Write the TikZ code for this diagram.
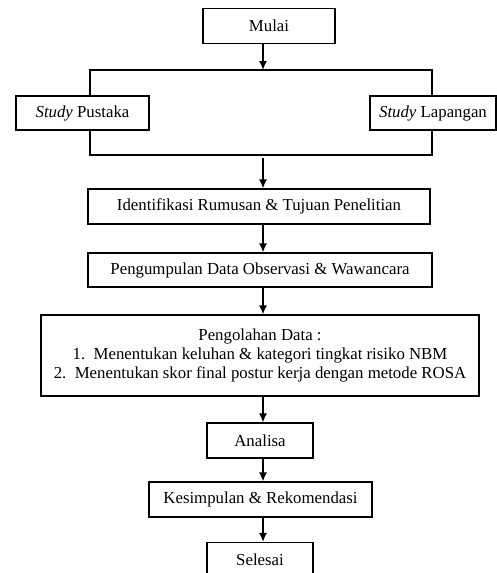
\documentclass[tikz,border=0pt]{standalone}
\usepackage{fontspec}
\setmainfont{Liberation Serif}
\usetikzlibrary{arrows.meta}
\begin{document}
\begin{tikzpicture}[x=1pt,y=-1pt,
  box/.style={draw, line width=1.1pt, minimum height=35pt, inner sep=0pt, font=\fontsize{16.8}{19}\selectfont},
  arr/.style={-{Latex[length=9pt,width=8pt]}, line width=1.6pt},
  ln/.style={line width=1.1pt}]
\useasboundingbox (0,0) rectangle (497,573);
\coordinate (ax) at (263,0);
\node[box, minimum width=132pt] (mulai) at (269,26) {Mulai};
\node[box, minimum width=133pt, minimum height=34pt] (pustaka) at (82.5,113) {\textit{Study} Pustaka};
\node[box, minimum width=126pt, minimum height=34pt] (lapangan) at (433,113) {\textit{Study} Lapangan};
\coordinate (tl) at (90,70);
\coordinate (tr) at (432,70);
\coordinate (bl) at (90,155);
\coordinate (br) at (432,155);
\coordinate (bm) at (263,158);
\draw[ln] (pustaka.north -| tl) -- (tl) -- (tr) -- (lapangan.north -| tr);
\draw[ln] (pustaka.south -| bl) -- (bl) -- (br) -- (lapangan.south -| br);
\node[box, minimum width=342pt] (ident) at (259,206.5) {Identifikasi Rumusan \& Tujuan Penelitian};
\node[box, minimum width=344pt, minimum height=34pt] (kumpul) at (260,270) {Pengumpulan Data Observasi \& Wawancara};
\node[box, minimum width=438pt, minimum height=81pt, align=center] (olah) at (260,355.5) {Pengolahan Data :\\1.\enspace Menentukan keluhan \& kategori tingkat risiko NBM\\2.\enspace Menentukan skor final postur kerja dengan metode ROSA};
\node[box, minimum width=106pt] (analisa) at (260,440.5) {Analisa};
\node[box, minimum width=223pt] (simpul) at (260.5,499.5) {Kesimpulan \& Rekomendasi};
\node[box, minimum width=106pt] (selesai) at (260,560) {Selesai};
\draw[arr] (mulai.south -| ax) -- (tl -| ax);
\draw[arr] (bm) -- (ident.north -| ax);
\draw[arr] (ident.south -| ax) -- (kumpul.north -| ax);
\draw[arr] (kumpul.south -| ax) -- (olah.north -| ax);
\draw[arr] (olah.south -| ax) -- (analisa.north -| ax);
\draw[arr] (analisa.south -| ax) -- (simpul.north -| ax);
\draw[arr] (simpul.south -| ax) -- (selesai.north -| ax);
\end{tikzpicture}
\end{document}
